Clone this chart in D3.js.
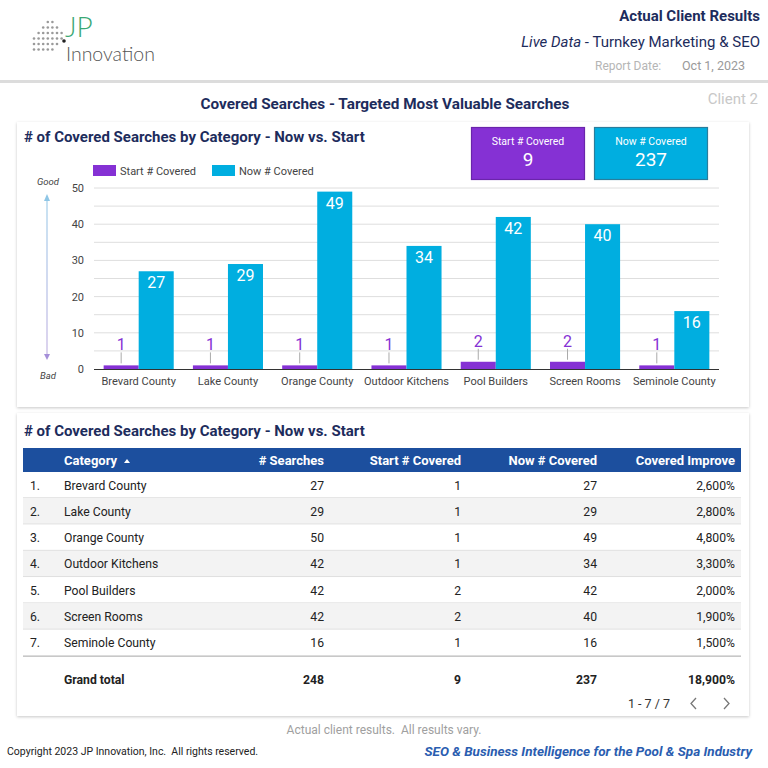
<!DOCTYPE html>
<html><head><meta charset="utf-8">
<script src="https://cdn.jsdelivr.net/npm/d3@7"></script>
<style>
body{margin:0;background:#fff;font-family:Roboto,"Noto Sans",sans-serif;}
svg{display:block;}
</style></head>
<body>
<svg id="c" width="768" height="768"></svg>
<script>
const categories = ["Brevard County","Lake County","Orange County","Outdoor Kitchens","Pool Builders","Screen Rooms","Seminole County"];
const startCovered = [1,1,1,1,2,2,1];
const nowCovered = [27,29,49,34,42,40,16];
const searches = [27,29,50,42,42,42,16];
const improve = ["2,600%","2,800%","4,800%","3,300%","2,000%","1,900%","1,500%"];
const totals = ["248","9","237","18,900%"];
const scoreLabels = ["Start # Covered","Now # Covered"];
const scoreValues = [9,237];
const yTicks = [0,10,20,30,40,50];
const tableHeaders = ["Category","# Searches","Start # Covered","Now # Covered","Covered Improve"];

const PURPLE="#8531d4", CYAN="#00aee0", NAVY="#1d2c5c", HEADBLUE="#1c4f9e";
const svg=d3.select("#c");
const defs=svg.append("defs");
const f=defs.append("filter").attr("id","sh").attr("x","-5%").attr("y","-5%").attr("width","110%").attr("height","115%");
f.append("feDropShadow").attr("dx",0).attr("dy",1).attr("stdDeviation",1.5).attr("flood-color","#000").attr("flood-opacity",0.22);

// header
svg.append("rect").attr("x",0).attr("y",80).attr("width",768).attr("height",3).attr("fill","#dcdcdc");
// logo dots
const dots=[];
const dotRows=[[3,4],[2,5],[1,6],[0,6],[0,5],[0,4]];
for(let r=0;r<6;r++){const[s,e]=dotRows[r];for(let c=s;c<=e;c++){dots.push([c,r]);}}
svg.append("g").selectAll("circle").data(dots).join("circle")
 .attr("cx",d=>34+d[0]*4.6).attr("cy",d=>22+d[1]*5.5).attr("r",1.3).attr("fill","#9a9a9a");
svg.append("circle").attr("cx",64).attr("cy",41).attr("r",1.8).attr("fill","#222");
svg.append("text").attr("x",65).attr("y",37).attr("font-size",28).attr("fill","#3aa874").attr("font-family","Lato,'Open Sans',sans-serif").attr("font-weight",300).text("JP");
svg.append("text").attr("x",66).attr("y",61).attr("font-size",19.5).attr("fill","#555").attr("font-family","Lato,'Open Sans',sans-serif").attr("font-weight",300).text("Innovation");

svg.append("text").attr("x",760).attr("y",21).attr("text-anchor","end").attr("font-size",15).attr("font-weight",700).attr("fill",NAVY).text("Actual Client Results");
const t2=svg.append("text").attr("x",760).attr("y",47).attr("text-anchor","end").attr("font-size",15).attr("fill",NAVY);
t2.append("tspan").attr("font-style","italic").text("Live Data");
t2.append("tspan").text(" - Turnkey Marketing & SEO");
svg.append("text").attr("x",595).attr("y",70).attr("font-size",12).attr("fill","#b5b5b5").text("Report Date:");
svg.append("text").attr("x",682).attr("y",70).attr("font-size",12.5).attr("fill","#9a9a9a").text("Oct 1, 2023");

svg.append("text").attr("x",385).attr("y",109).attr("text-anchor","middle").attr("font-size",15.3).attr("font-weight",700).attr("fill",NAVY).text("Covered Searches - Targeted Most Valuable Searches");
svg.append("text").attr("x",758).attr("y",104).attr("text-anchor","end").attr("font-size",15).attr("fill","#c8c8c8").text("Client 2");

// chart card
svg.append("rect").attr("x",17).attr("y",122).attr("width",732).attr("height",285).attr("fill","#fff").attr("filter","url(#sh)");
svg.append("text").attr("x",24).attr("y",142).attr("font-size",15).attr("font-weight",700).attr("fill",NAVY).text("# of Covered Searches by Category - Now vs. Start");

// scorecards
const sc=[{x:471,fill:PURPLE,stroke:"#6a25ab"},{x:594,fill:CYAN,stroke:"#2a7d9c"}];
sc.forEach((s,i)=>{
 svg.append("rect").attr("x",s.x+0.5).attr("y",127.5).attr("width",113).attr("height",52).attr("fill",s.fill).attr("stroke",s.stroke).attr("stroke-width",1.2);
 svg.append("text").attr("x",s.x+57).attr("y",145).attr("text-anchor","middle").attr("font-size",10.5).attr("fill","#fff").text(scoreLabels[i]);
 svg.append("text").attr("x",s.x+57).attr("y",166).attr("text-anchor","middle").attr("font-size",19).attr("fill","#fff").text(scoreValues[i]);
});

// legend
[[93,PURPLE,scoreLabels[0]],[212,CYAN,scoreLabels[1]]].forEach(([x,c,t])=>{
 svg.append("rect").attr("x",x).attr("y",165).attr("width",23).attr("height",11).attr("fill",c);
 svg.append("text").attr("x",x+27).attr("y",175).attr("font-size",11).attr("fill","#444").text(t);
});

const y=d3.scaleLinear().domain([0,50]).range([369,188]);
const x0=d3.scaleBand().domain(categories).range([94,719]).paddingInner(0.215).paddingOuter(0.108);
const x1=d3.scaleBand().domain(["s","n"]).range([0,x0.bandwidth()]);

// grid
const grid=d3.range(5,55,5);
svg.append("g").selectAll("line").data(grid).join("line")
 .attr("x1",94).attr("x2",719).attr("y1",d=>y(d)).attr("y2",d=>y(d)).attr("stroke","#dedede").attr("stroke-width",1);
const yAxis=svg.append("g").attr("transform","translate(94,0)").call(d3.axisLeft(y).tickValues(yTicks).tickSize(0).tickPadding(10));
yAxis.select(".domain").remove();
yAxis.selectAll("text").attr("font-size",11).attr("fill","#444").attr("font-family","Roboto");

// good/bad arrow
const ag=defs.append("linearGradient").attr("id","ag").attr("x1",0).attr("x2",0).attr("y1",0).attr("y2",1);
ag.append("stop").attr("offset","0%").attr("stop-color","#8fc6e6");
ag.append("stop").attr("offset","100%").attr("stop-color","#b8a6dd");
svg.append("rect").attr("x",46.5).attr("y",196).attr("width",1).attr("height",158).attr("fill","url(#ag)");
svg.append("path").attr("d","M44,201 L47,194 L50,201 Z").attr("fill","#8fc6e6");
svg.append("path").attr("d","M44,354 L47,360 L50,354 Z").attr("fill","#a58fd9");
svg.append("text").attr("x",48).attr("y",185).attr("text-anchor","middle").attr("font-size",9.5).attr("font-style","italic").attr("fill","#444").text("Good");
svg.append("text").attr("x",48).attr("y",379).attr("text-anchor","middle").attr("font-size",9.5).attr("font-style","italic").attr("fill","#444").text("Bad");

const g=svg.append("g");
const cat=g.selectAll("g").data(categories).join("g").attr("transform",d=>`translate(${x0(d)},0)`);
cat.append("rect").attr("x",x1("s")).attr("width",x1.bandwidth()).attr("y",(d,i)=>y(startCovered[i])).attr("height",(d,i)=>y(0)-y(startCovered[i])).attr("fill",PURPLE);
cat.append("rect").attr("x",x1("n")).attr("width",x1.bandwidth()).attr("y",(d,i)=>y(nowCovered[i])).attr("height",(d,i)=>y(0)-y(nowCovered[i])).attr("fill",CYAN);
cat.append("line").attr("x1",x1("s")+x1.bandwidth()/2).attr("x2",x1("s")+x1.bandwidth()/2)
 .attr("y1",(d,i)=>y(startCovered[i])-2).attr("y2",(d,i)=>y(startCovered[i])-13).attr("stroke","#aaa").attr("stroke-width",1);
cat.append("text").attr("x",x1("s")+x1.bandwidth()/2).attr("y",(d,i)=>y(startCovered[i])-15).attr("text-anchor","middle").attr("font-size",16).attr("fill",PURPLE).text((d,i)=>startCovered[i]);
cat.append("text").attr("x",x1("n")+x1.bandwidth()/2).attr("y",(d,i)=>y(nowCovered[i])+17).attr("text-anchor","middle").attr("font-size",16).attr("fill","#fff").text((d,i)=>nowCovered[i]);
svg.append("line").attr("x1",94).attr("x2",719).attr("y1",y(0)+0.5).attr("y2",y(0)+0.5).attr("stroke","#333").attr("stroke-width",1.2);
const xAxis=svg.append("g").attr("transform",`translate(0,${y(0)})`).call(d3.axisBottom(x0).tickSize(0).tickPadding(8));
xAxis.select(".domain").remove();
xAxis.selectAll("text").attr("font-size",11).attr("fill","#444").attr("font-family","Roboto");

// table card
svg.append("rect").attr("x",17).attr("y",413).attr("width",732).attr("height",303).attr("fill","#fff").attr("filter","url(#sh)");
svg.append("text").attr("x",24).attr("y",436).attr("font-size",15).attr("font-weight",700).attr("fill",NAVY).text("# of Covered Searches by Category - Now vs. Start");
svg.append("rect").attr("x",23).attr("y",448).attr("width",718).attr("height",24).attr("fill",HEADBLUE);
const colX=[64,324,461,597,735];
tableHeaders.forEach((h,i)=>{
 svg.append("text").attr("x",colX[i]).attr("y",465).attr("text-anchor",i===0?"start":"end").attr("font-size",13).attr("font-weight",700).attr("fill","#fff").text(h);
});
svg.append("path").attr("d","M124,463 L127,459 L130,463 Z").attr("fill","#fff");
const rowY=d3.scaleBand().domain(d3.range(categories.length)).range([472,656]);
const rows=svg.append("g").selectAll("g").data(categories).join("g").attr("transform",(d,i)=>`translate(0,${rowY(i)})`);
rows.append("rect").attr("x",23).attr("width",718).attr("height",rowY.bandwidth()).attr("fill",(d,i)=>i%2?"#f3f3f3":"#fff");
rows.append("line").attr("x1",23).attr("x2",741).attr("y1",rowY.bandwidth()-0.5).attr("y2",rowY.bandwidth()-0.5).attr("stroke","#dcdcdc");
const ty=rowY.bandwidth()/2+4.5;
const FS=12.2;
rows.append("text").attr("x",30).attr("y",ty).attr("font-size",FS).attr("fill","#222").text((d,i)=>(i+1)+".");
rows.append("text").attr("x",colX[0]).attr("y",ty).attr("font-size",FS).attr("fill","#222").text(d=>d);
rows.append("text").attr("x",colX[1]).attr("y",ty).attr("text-anchor","end").attr("font-size",FS).attr("fill","#222").text((d,i)=>searches[i]);
rows.append("text").attr("x",colX[2]).attr("y",ty).attr("text-anchor","end").attr("font-size",FS).attr("fill","#222").text((d,i)=>startCovered[i]);
rows.append("text").attr("x",colX[3]).attr("y",ty).attr("text-anchor","end").attr("font-size",FS).attr("fill","#222").text((d,i)=>nowCovered[i]);
rows.append("text").attr("x",colX[4]).attr("y",ty).attr("text-anchor","end").attr("font-size",FS).attr("fill","#222").text((d,i)=>improve[i]);
svg.append("line").attr("x1",23).attr("x2",741).attr("y1",656.5).attr("y2",656.5).attr("stroke","#c8c8c8");
svg.append("text").attr("x",colX[0]).attr("y",684).attr("font-size",FS).attr("font-weight",700).attr("fill","#222").text("Grand total");
totals.forEach((t,i)=>svg.append("text").attr("x",colX[i+1]).attr("y",684).attr("text-anchor","end").attr("font-size",FS).attr("font-weight",700).attr("fill","#222").text(t));
svg.append("text").attr("x",670).attr("y",708).attr("text-anchor","end").attr("font-size",12.5).attr("fill","#333").text("1 - 7 / 7");
svg.append("path").attr("d","M696,698 L691,703.5 L696,709").attr("fill","none").attr("stroke","#777").attr("stroke-width",1.3);
svg.append("path").attr("d","M724,698 L729,703.5 L724,709").attr("fill","none").attr("stroke","#777").attr("stroke-width",1.3);

// footer
svg.append("text").attr("x",384).attr("y",734).attr("text-anchor","middle").attr("font-size",12).attr("fill","#a0a0a0").attr("xml:space","preserve").style("white-space","pre").text("Actual client results.  All results vary.");
svg.append("text").attr("x",7).attr("y",755).attr("font-size",10.5).attr("fill","#222").attr("xml:space","preserve").style("white-space","pre").text("Copyright 2023 JP Innovation, Inc.  All rights reserved.");
svg.append("text").attr("x",752).attr("y",756).attr("text-anchor","end").attr("font-size",13.5).attr("font-weight",700).attr("font-style","italic").attr("fill","#2a5db0").text("SEO & Business Intelligence for the Pool & Spa Industry");
</script>
</body></html>
